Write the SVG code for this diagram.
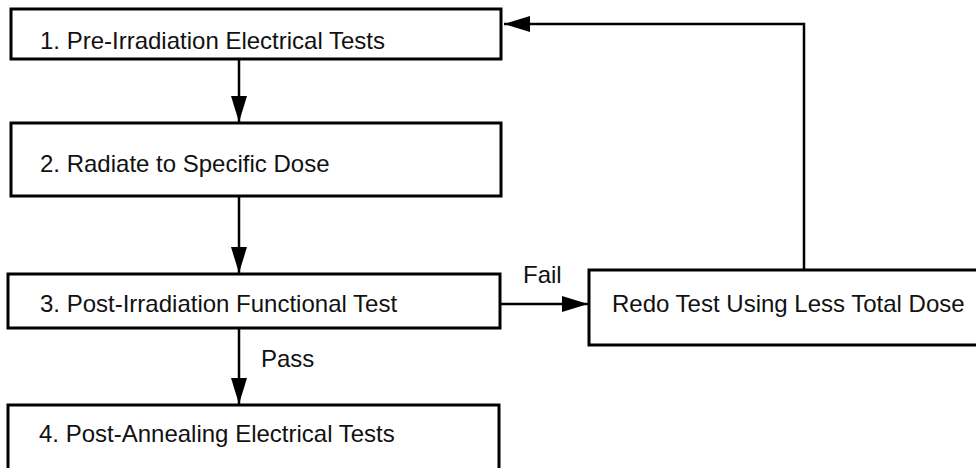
<svg xmlns="http://www.w3.org/2000/svg" width="976" height="468" viewBox="0 0 976 468">
<style>
  .box { fill: #ffffff; stroke: #000000; stroke-width: 3; }
  .lbl { font-family: "Liberation Sans", Arial, sans-serif; font-size: 24px; fill: #111111; }
  .edge { fill: none; stroke: #000000; stroke-width: 2.5; }
</style>
<defs>
  <marker id="arrow" markerUnits="userSpaceOnUse" markerWidth="27" markerHeight="17" refX="26" refY="8" orient="auto">
    <path d="M0,0 L26,8 L0,16 z" fill="#000000"/>
  </marker>
</defs>
<rect width="976" height="468" fill="#ffffff"/>
<g id="connectors">
  <line class="edge" x1="239" y1="59" x2="239" y2="122" marker-end="url(#arrow)"/>
  <line class="edge" x1="239" y1="196" x2="239" y2="273" marker-end="url(#arrow)"/>
  <line class="edge" x1="239" y1="328" x2="239" y2="404" marker-end="url(#arrow)"/>
  <line class="edge" x1="500" y1="304" x2="588" y2="304" marker-end="url(#arrow)"/>
  <polyline class="edge" points="804,270 804,24 504,24" marker-end="url(#arrow)"/>
  <text class="lbl" x="523" y="283">Fail</text>
  <text class="lbl" x="261" y="367">Pass</text>
</g>
<g id="node1">
  <rect class="box" x="11" y="9" width="490" height="50"/>
  <text class="lbl" x="40" y="49">1. Pre-Irradiation Electrical Tests</text>
</g>
<g id="node2">
  <rect class="box" x="11" y="123" width="490" height="73"/>
  <text class="lbl" x="40" y="172">2. Radiate to Specific Dose</text>
</g>
<g id="node3">
  <rect class="box" x="8" y="274" width="492" height="54"/>
  <text class="lbl" x="40" y="312">3. Post-Irradiation Functional Test</text>
</g>
<g id="node4">
  <rect class="box" x="8" y="405" width="491" height="80"/>
  <text class="lbl" x="39" y="442">4. Post-Annealing Electrical Tests</text>
</g>
<g id="node5">
  <rect class="box" x="589" y="270" width="400" height="75"/>
  <text class="lbl" x="612" y="312">Redo Test Using Less Total Dose</text>
</g>
</svg>
